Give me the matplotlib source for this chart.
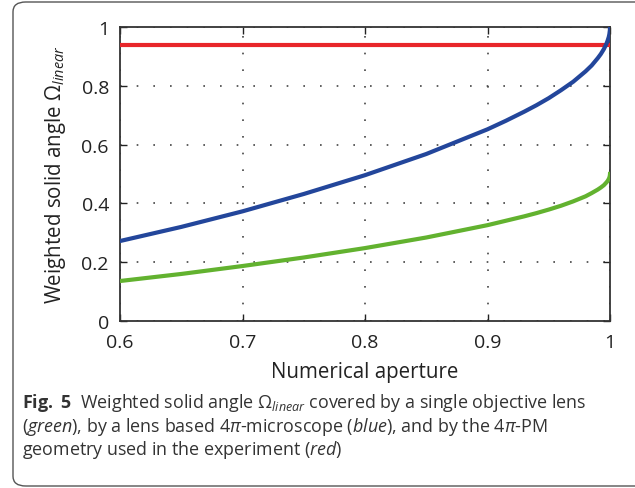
import matplotlib
matplotlib.use("Agg")
import matplotlib.pyplot as plt
from matplotlib.patches import FancyBboxPatch
from matplotlib.ticker import FixedLocator, FuncFormatter

plt.rcParams['font.family'] = ['Open Sans', 'DejaVu Sans']
plt.rcParams['mathtext.fontset'] = 'custom'
plt.rcParams['mathtext.rm'] = 'Open Sans'
plt.rcParams['mathtext.it'] = 'Open Sans:italic'
plt.rcParams['mathtext.bf'] = 'Open Sans:bold'

# Data
numerical_aperture = [0.6, 0.65, 0.7, 0.75, 0.8, 0.85, 0.9, 0.915, 0.93, 0.94,
                      0.95, 0.96, 0.97, 0.98, 0.985, 0.99, 0.9925, 0.995,
                      0.997, 0.998, 0.999, 0.9995, 0.9999, 1.0]
omega_single = [0.136, 0.160, 0.187, 0.216, 0.248, 0.284, 0.326, 0.341, 0.356,
                0.367, 0.379, 0.392, 0.407, 0.424, 0.435, 0.447, 0.454, 0.462,
                0.471, 0.476, 0.483, 0.488, 0.495, 0.500]
omega_4pi_lens = [0.272, 0.320, 0.373, 0.432, 0.496, 0.568, 0.652, 0.681, 0.712,
                  0.734, 0.758, 0.785, 0.814, 0.849, 0.869, 0.894, 0.908, 0.925,
                  0.942, 0.953, 0.966, 0.976, 0.989, 1.000]
omega_4pi_pm = 0.94

x_ticks = [0.6, 0.7, 0.8, 0.9, 1.0]
y_ticks = [0, 0.2, 0.4, 0.6, 0.8, 1.0]

fig = plt.figure(figsize=(6.35, 4.89), dpi=100)

# rounded frame
frame = FancyBboxPatch((13 / 635, 2 / 489), 640 / 635, 484 / 489,
                       boxstyle="round,pad=0,rounding_size=0.02",
                       transform=fig.transFigure, fill=False,
                       edgecolor='#555555', linewidth=1.0, clip_on=False)
fig.patches.append(frame)

ax = fig.add_axes([120 / 635, 167 / 489, 490 / 635, 294 / 489])

ax.plot([0.6, 1.0], [omega_4pi_pm, omega_4pi_pm], color='#e8262a', lw=3.0,
        solid_capstyle='butt', zorder=3)
ax.plot(numerical_aperture, omega_4pi_lens, color='#23469b', lw=3.0, zorder=4)
ax.plot(numerical_aperture, omega_single, color='#62b22f', lw=3.0, zorder=4)

ax.set_xlim(0.6, 1.0)
ax.set_ylim(0, 1.0)
ax.xaxis.set_major_locator(FixedLocator(x_ticks))
ax.yaxis.set_major_locator(FixedLocator(y_ticks))
fmt = FuncFormatter(lambda v, p: ('%g' % round(v, 2)))
ax.xaxis.set_major_formatter(fmt)
ax.yaxis.set_major_formatter(fmt)

ax.tick_params(direction='in', length=5, width=1.0, top=True, right=True,
               labelsize=14, colors='#222222')
ax.tick_params(axis='x', pad=9)
ax.tick_params(axis='y', pad=8)
for s in ax.spines.values():
    s.set_linewidth(1.3)
    s.set_color('#333333')
ax.grid(True, linestyle=(0, (1, 9)), color='#444444', linewidth=1.2)

ax.set_xlabel('Numerical aperture', fontsize=14.8, color='#222222', labelpad=7)
ax.set_ylabel(r'Weighted solid angle $\Omega_{linear}$', fontsize=14.8,
              color='#222222', labelpad=10)

cap_fs = 12.9
fig.text(22 / 635, 1 - 403 / 489,
         r'$\mathbf{Fig.\ 5}$  Weighted solid angle $\Omega_{linear}$ covered by a single objective lens',
         fontsize=cap_fs, color='#333333', va='center', ha='left')
fig.text(22 / 635, 1 - 427 / 489,
         r'($\mathit{green}$), by a lens based 4$\mathit{\pi}$-microscope ($\mathit{blue}$), and by the 4$\mathit{\pi}$-PM',
         fontsize=cap_fs, color='#333333', va='center', ha='left')
fig.text(22 / 635, 1 - 450 / 489,
         r'geometry used in the experiment ($\mathit{red}$)',
         fontsize=cap_fs, color='#333333', va='center', ha='left')

fig.savefig('out.png', dpi=100)
